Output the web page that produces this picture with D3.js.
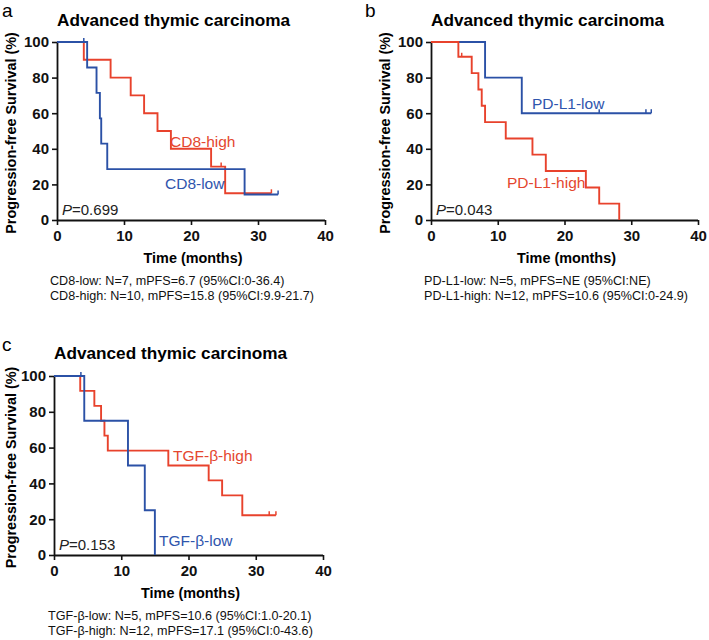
<!DOCTYPE html>
<html><head><meta charset="utf-8">
<script src="https://cdn.jsdelivr.net/npm/d3@7"></script>
<style>
body{margin:0;background:#fff;}
svg text{font-family:Arial,"Liberation Sans",Helvetica,sans-serif;}
</style></head>
<body><svg id="chart" width="709" height="640"></svg>
<script>
// ---- data ----
const xTicks = [0, 10, 20, 30, 40];
const yTicks = [0, 20, 40, 60, 80, 100];
const panelTitle = "Advanced thymic carcinoma";
const xLabel = "Time (months)";
const yLabel = "Progression-free Survival (%)";

// panel a
const cd8LowTimes = [4.5, 5.9, 6.4, 6.6, 7.5, 28];
const cd8LowSurv = [85.7, 71.4, 57.1, 42.9, 28.6, 14.3];
const cd8LowEnd = 33;
const cd8LowCensor = [4, 33];
const cd8HighTimes = [4, 8, 11, 13, 15, 17, 23, 25.1];
const cd8HighSurv = [90, 80, 70, 60, 50, 40, 30, 15];
const cd8HighEnd = 32;
const cd8HighCensor = [24.5, 32];

// panel b
const pdl1LowTimes = [8.1, 13.6];
const pdl1LowSurv = [80, 60];
const pdl1LowEnd = 33;
const pdl1LowCensor = [25.2, 32.2, 33];
const pdl1HighTimes = [4.1, 6.1, 7.1, 7.6, 8.1, 11.2, 15.2, 17.2, 23.2, 25.2, 28.2];
const pdl1HighSurv = [91.7, 82.5, 73.3, 64.2, 55.0, 45.8, 36.7, 27.5, 18.3, 9.2, 0];
const pdl1HighEnd = 28.2;
const pdl1HighCensor = [4.6];

// panel c
const tgfLowTimes = [4.5, 11, 13.5, 15];
const tgfLowSurv = [75, 50, 25, 0];
const tgfLowEnd = 15;
const tgfLowCensor = [4];
const tgfHighTimes = [3.9, 6, 7, 7.5, 8, 17, 23, 25, 28];
const tgfHighSurv = [91.7, 83.3, 75, 66.7, 58.3, 50, 41.7, 33.3, 22.2];
const tgfHighEnd = 33;
const tgfHighCensor = [32, 33];

const pValues = ["0.699", "0.043", "0.153"];
const footA = ["CD8-low: N=7, mPFS=6.7 (95%CI:0-36.4)", "CD8-high: N=10, mPFS=15.8 (95%CI:9.9-21.7)"];
const footB = ["PD-L1-low: N=5, mPFS=NE (95%CI:NE)", "PD-L1-high: N=12, mPFS=10.6 (95%CI:0-24.9)"];
const footC = ["TGF-\u03B2-low: N=5, mPFS=10.6 (95%CI:1.0-20.1)", "TGF-\u03B2-high: N=12, mPFS=17.1 (95%CI:0-43.6)"];

// ---- style ----
const RED = "#e8422c", BLUE = "#2b51a6";
const RED_T = "#e4472f", BLUE_T = "#2f55ad";

const svg = d3.select("#chart");

function buildSeries(times, surv, end, censor) {
  const pts = [{t: 0, s: 100}];
  times.forEach((t, i) => pts.push({t, s: surv[i]}));
  pts.push({t: end, s: surv[surv.length - 1]});
  const cens = censor.map(c => {
    let s = 100;
    times.forEach((t, i) => { if (t <= c) s = surv[i]; });
    return {t: c, s};
  });
  return {pts, cens};
}

function drawPanel(cfg) {
  const g = svg.append("g");
  const x = d3.scaleLinear().domain([0, 40]).range([cfg.x0, cfg.x1]);
  const y = d3.scaleLinear().domain([0, 100]).range([cfg.y0, cfg.y1]);

  g.append("text").attr("x", cfg.letterX).attr("y", cfg.letterY)
    .attr("font-size", 19).text(cfg.letter);
  g.append("text").attr("x", cfg.titleX).attr("y", cfg.titleY)
    .attr("font-size", 17.2).attr("font-weight", "bold").text(panelTitle);

  const ya = g.append("g").attr("transform", `translate(${cfg.x0},0)`)
    .call(d3.axisLeft(y).tickValues(yTicks).tickSize(5).tickPadding(3));
  const xa = g.append("g").attr("transform", `translate(0,${cfg.y0})`)
    .call(d3.axisBottom(x).tickValues(xTicks).tickSize(5).tickPadding(5));
  [ya, xa].forEach(a => {
    a.select(".domain").attr("stroke", "#111").attr("stroke-width", 1.8);
    a.selectAll(".tick line").attr("stroke", "#111").attr("stroke-width", 1.6);
    a.selectAll(".tick text").attr("font-size", 15).attr("font-weight", "bold")
      .attr("fill", "#111").style("font-family", "Arial, 'Liberation Sans', sans-serif");
  });
  ya.select(".domain").attr("d", `M0.5,${cfg.y0}V${cfg.y1}`);
  xa.select(".domain").attr("d", `M${cfg.x0},0.5H${cfg.x1}`);

  g.append("text").attr("x", (cfg.x0 + cfg.x1) / 2 + 2).attr("y", cfg.y0 + 43)
    .attr("text-anchor", "middle").attr("font-size", 14.4).attr("font-weight", "bold")
    .text(xLabel);
  g.append("text")
    .attr("transform", `translate(${cfg.ylabX},${(cfg.y0 + cfg.y1) / 2 + 2}) rotate(-90)`)
    .attr("text-anchor", "middle").attr("font-size", 14.4).attr("font-weight", "bold")
    .text(yLabel);

  const line = d3.line().x(d => x(d.t)).y(d => y(d.s)).curve(d3.curveStepAfter);
  cfg.series.forEach(sr => {
    const d = buildSeries(sr.times, sr.surv, sr.end, sr.censor);
    g.append("path").attr("d", line(d.pts)).attr("fill", "none")
      .attr("stroke", sr.color).attr("stroke-width", 1.9);
    g.selectAll(null).data(d.cens).enter().append("line")
      .attr("x1", c => x(c.t)).attr("x2", c => x(c.t))
      .attr("y1", c => y(c.s)).attr("y2", c => y(c.s) - 4)
      .attr("stroke", sr.color).attr("stroke-width", 1.5);
    g.append("text").attr("x", sr.lx).attr("y", sr.ly)
      .attr("font-size", 15.5).attr("fill", sr.tcolor).text(sr.label);
  });

  const pt = g.append("text").attr("x", cfg.x0 + 5).attr("y", cfg.y0 - 5)
    .attr("font-size", 15).attr("fill", "#222");
  pt.append("tspan").attr("font-style", "italic").text("P");
  pt.append("tspan").text("=" + cfg.p);

  cfg.foot.forEach((f, i) => {
    g.append("text").attr("x", cfg.footX).attr("y", cfg.y0 + 65 + i * 15)
      .attr("font-size", 12.6).attr("fill", "#111").text(f);
  });
}

drawPanel({
  letter: "a", letterX: 2, letterY: 17, titleX: 57, titleY: 26,
  x0: 57, x1: 325, y0: 220, y1: 42, ylabX: 16, footX: 50,
  p: pValues[0], foot: footA,
  series: [
    {times: cd8HighTimes, surv: cd8HighSurv, end: cd8HighEnd, censor: cd8HighCensor,
     color: RED, tcolor: RED_T, label: "CD8-high", lx: 170, ly: 147},
    {times: cd8LowTimes, surv: cd8LowSurv, end: cd8LowEnd, censor: cd8LowCensor,
     color: BLUE, tcolor: BLUE_T, label: "CD8-low", lx: 165, ly: 189}
  ]
});
drawPanel({
  letter: "b", letterX: 365, letterY: 17, titleX: 431, titleY: 26,
  x0: 431, x1: 698, y0: 220, y1: 42, ylabX: 390, footX: 424,
  p: pValues[1], foot: footB,
  series: [
    {times: pdl1LowTimes, surv: pdl1LowSurv, end: pdl1LowEnd, censor: pdl1LowCensor,
     color: BLUE, tcolor: BLUE_T, label: "PD-L1-low", lx: 532, ly: 109},
    {times: pdl1HighTimes, surv: pdl1HighSurv, end: pdl1HighEnd, censor: pdl1HighCensor,
     color: RED, tcolor: RED_T, label: "PD-L1-high", lx: 507, ly: 188}
  ]
});
drawPanel({
  letter: "c", letterX: 2, letterY: 351, titleX: 54, titleY: 359,
  x0: 54, x1: 323, y0: 555, y1: 376, ylabX: 16, footX: 48,
  p: pValues[2], foot: footC,
  series: [
    {times: tgfHighTimes, surv: tgfHighSurv, end: tgfHighEnd, censor: tgfHighCensor,
     color: RED, tcolor: RED_T, label: "TGF-\u03B2-high", lx: 173, ly: 461},
    {times: tgfLowTimes, surv: tgfLowSurv, end: tgfLowEnd, censor: tgfLowCensor,
     color: BLUE, tcolor: BLUE_T, label: "TGF-\u03B2-low", lx: 159, ly: 546}
  ]
});
</script></body></html>
